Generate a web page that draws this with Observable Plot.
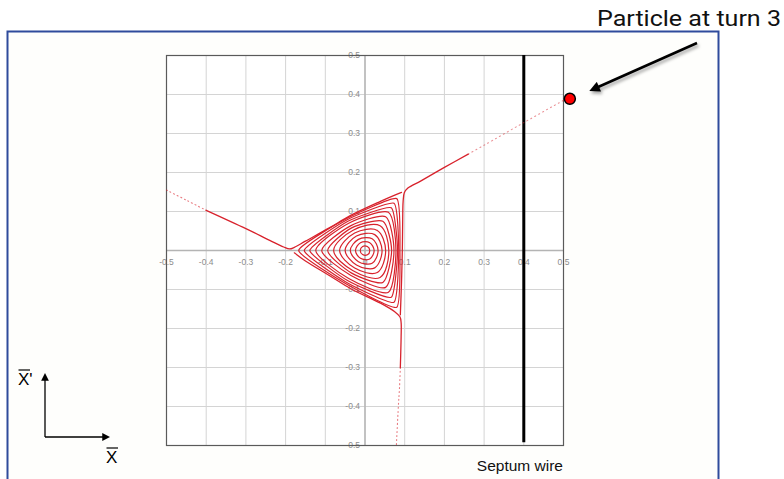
<!DOCTYPE html>
<html>
<head>
<meta charset="utf-8">
<script src="https://cdn.jsdelivr.net/npm/d3@7"></script>
<script src="https://cdn.jsdelivr.net/npm/@observablehq/plot@0.6"></script>
<style>
  html, body { margin: 0; padding: 0; background: #ffffff; overflow: hidden; }
  #wrap { position: relative; width: 784px; height: 479px; overflow: hidden; }
  #deco, #chart { position: absolute; left: 0; top: 0; }
  #chart svg { overflow: visible; }
</style>
</head>
<body>
<div id="wrap">
  <svg id="deco" width="784" height="479" xmlns="http://www.w3.org/2000/svg">
    <defs>
      <marker id="bigHead" viewBox="0 0 10 10" refX="2" refY="5" markerWidth="5" markerHeight="4.2" orient="auto" markerUnits="strokeWidth">
        <path d="M0,0 L10,5 L0,10 Z" fill="#000"/>
      </marker>
      <marker id="smallHead" viewBox="0 0 10 10" refX="1" refY="5" markerWidth="6" markerHeight="6" orient="auto" markerUnits="strokeWidth">
        <path d="M0,0 L10,5 L0,10 Z" fill="#000"/>
      </marker>
      <filter id="shadow" x="-20%" y="-50%" width="140%" height="200%">
        <feDropShadow dx="1.5" dy="2.5" stdDeviation="1.5" flood-color="#000" flood-opacity="0.35"/>
      </filter>
    </defs>
    <rect x="7.5" y="31.5" width="711" height="470" fill="#fefefc" stroke="#2f4b9c" stroke-width="2"/>
    <text x="597" y="26" font-family="Roboto, 'Liberation Sans', sans-serif" font-size="22" fill="#111" textLength="184" lengthAdjust="spacingAndGlyphs">Particle at turn 3</text>
    <line x1="697" y1="43" x2="597" y2="87.5" stroke="#000" stroke-width="2.5" marker-end="url(#bigHead)" filter="url(#shadow)"/>
    <!-- coordinate-system sketch -->
    <line x1="45" y1="437" x2="45" y2="380" stroke="#000" stroke-width="1.3" marker-end="url(#smallHead)"/>
    <line x1="45" y1="437" x2="103" y2="437" stroke="#000" stroke-width="1.3" marker-end="url(#smallHead)"/>
    <text x="18" y="385" font-family="'Liberation Sans', Arial, sans-serif" font-size="17" fill="#000">X'</text>
    <line x1="18.5" y1="370" x2="30" y2="370" stroke="#000" stroke-width="1.2"/>
    <text x="106" y="463" font-family="'Liberation Sans', Arial, sans-serif" font-size="17" fill="#000">X</text>
    <line x1="106.5" y1="448" x2="118" y2="448" stroke="#000" stroke-width="1.2"/>
    <text x="563" y="471" text-anchor="end" font-family="'Liberation Sans', Arial, sans-serif" font-size="15.5" fill="#111">Septum wire</text>
  </svg>
  <div id="chart"></div>
</div>
<script>
// ---- axis ticks ----
const gridTicks = [-0.5, -0.4, -0.3, -0.2, -0.1, 0, 0.1, 0.2, 0.3, 0.4, 0.5];
const xTickValues = [-0.5, -0.4, -0.3, -0.2, -0.1, 0, 0.1, 0.2, 0.3, 0.4, 0.5];
const xTickLabels = ["-0.5", "-0.4", "-0.3", "-0.2", "-0.1", "0", "0.1", "0.2", "0.3", "0.4", "0.5"];
const yTickValues = [0.5, 0.4, 0.3, 0.2, 0.1, -0.1, -0.2, -0.3, -0.4, -0.5];
const yTickLabels = ["0.5", "0.4", "0.3", "0.2", "0.1", "-0.1", "-0.2", "-0.3", "-0.4", "-0.5"];

// ---- septum wire position ----
const septumX = [0.4];

// ---- particle at turn 3 ----
const particle = [{x: 0.516, y: 0.389}];

// ---- stable closed orbits (x, x') ----
const orbit01 = [[0.012,0],[0.006,0.010],[-0.006,0.0104],[-0.012,0],[-0.006,-0.0104],[0.006,-0.011]];
const orbit02 = [[0.023,0],[0.012,0.020],[-0.0115,0.020],[-0.024,0],[-0.0115,-0.020],[0.012,-0.022]];
const orbit03 = [[0.033,0],[0.018,0.030],[-0.0165,0.0286],[-0.037,0],[-0.0165,-0.0286],[0.018,-0.0328]];
const orbit04 = [[0.043,0],[0.0245,0.0407],[-0.0215,0.0372],[-0.050,0],[-0.0215,-0.0372],[0.0245,-0.0445]];
const orbit05 = [[0.052,0],[0.031,0.0515],[-0.026,0.045],[-0.064,0],[-0.026,-0.045],[0.031,-0.0564]];
const orbit06 = [[0.060,0],[0.038,0.0632],[-0.030,0.052],[-0.079,0],[-0.030,-0.052],[0.038,-0.0691]];
const orbit07 = [[0.067,0],[0.045,0.0748],[-0.0335,0.058],[-0.094,0],[-0.0335,-0.058],[0.045,-0.0818]];
const orbit08 = [[0.073,0],[0.052,0.0865],[-0.0365,0.0632],[-0.109,0],[-0.0365,-0.0632],[0.052,-0.0946]];
const orbit09 = [[0.078,0],[0.059,0.0981],[-0.041,0.070],[-0.124,0],[-0.041,-0.072],[0.059,-0.1073]];
const orbit10 = [[0.082,0],[0.066,0.1097],[-0.043,0.075],[-0.139,0],[-0.044,-0.077],[0.066,-0.120]];
const orbit11 = [[0.085,0],[0.073,0.1213],[-0.045,0.079],[-0.153,0],[-0.046,-0.082],[0.073,-0.1327]];
const orbit12 = [[0.088,0],[0.080,0.133],[-0.046,0.082],[-0.167,0],[-0.047,-0.086],[0.080,-0.1455]];

// ---- separatrices and escaping arms ----
const sepLeftUpper = [[-0.40,0.103],[-0.30,0.056],[-0.24,0.026],[-0.205,0.009],[-0.19,0.004],[-0.178,0.008],[-0.15,0.024],[-0.09,0.058],[-0.036,0.090],[0.039,0.126],[0.075,0.142],[0.092,0.149]];
const sepRightUpper = [[0.089,-0.165],[0.092,-0.08],[0.094,0.0],[0.095,0.08],[0.096,0.125],[0.099,0.148],[0.108,0.160],[0.14,0.178],[0.2,0.213],[0.26,0.247]];
const sepLowerDown = [[-0.178,-0.006],[-0.15,-0.027],[-0.09,-0.064],[-0.036,-0.098],[0.039,-0.135],[0.075,-0.157],[0.088,-0.170],[0.091,-0.185],[0.091,-0.22],[0.089,-0.30]];
const tailLeft = [[-0.5,0.155],[-0.45,0.129],[-0.40,0.103]];
const tailUpperRight = [[0.26,0.247],[0.3,0.27],[0.4,0.328],[0.5,0.385]];
const tailDown = [[0.089,-0.30],[0.087,-0.35],[0.084,-0.40],[0.079,-0.5]];

const orbitGroups = [orbit01, orbit02, orbit03, orbit04, orbit05, orbit06, orbit07, orbit08, orbit09, orbit10, orbit11, orbit12];
const orbitRows = orbitGroups.flatMap((pts, i) => pts.map(([x, y]) => ({orbit: i + 1, x, y})));

const red = "#d8222c";
const px = d => d[0], py = d => d[1];

const chart = Plot.plot({
  width: 784,
  height: 479,
  marginLeft: 166,
  marginRight: 221,
  marginTop: 55,
  marginBottom: 34,
  x: {domain: [-0.5, 0.5], axis: null},
  y: {domain: [-0.5, 0.5], axis: null},
  style: {background: "transparent", overflow: "visible"},
  marks: [
    Plot.frame({fill: "white", stroke: "none"}),
    Plot.ruleX(gridTicks, {stroke: "#d4d4d4", strokeWidth: 1}),
    Plot.ruleY(gridTicks, {stroke: "#d4d4d4", strokeWidth: 1}),
    Plot.ruleX([0], {stroke: "#b4b4b4", strokeWidth: 1.5}),
    Plot.ruleY([0], {stroke: "#b4b4b4", strokeWidth: 1.5}),
    Plot.text(xTickValues, {x: d => d, y: 0, text: (d, i) => xTickLabels[i], dy: 12, fontSize: 8.5, fill: "#8c8c8c", fontFamily: "Liberation Sans, Arial, sans-serif"}),
    Plot.text(yTickValues, {x: 0, y: d => d, text: (d, i) => yTickLabels[i], dx: -5, textAnchor: "end", fontSize: 8.5, fill: "#8c8c8c", fontFamily: "Liberation Sans, Arial, sans-serif"}),
    Plot.frame({stroke: "#5a5a5a", strokeWidth: 1.2}),
    Plot.ruleX(septumX, {y1: -0.493, y2: 0.5, stroke: "#000", strokeWidth: 3}),
    Plot.line(orbitRows.filter(d => d.orbit <= 6), {x: "x", y: "y", z: "orbit", curve: "catmull-rom-closed", stroke: red, strokeWidth: 1.2}),
    Plot.line(orbitRows.filter(d => d.orbit >= 7 && d.orbit <= 9), {x: "x", y: "y", z: "orbit", curve: "cardinal-closed", tension: 0.3, stroke: red, strokeWidth: 1.2}),
    Plot.line(orbitRows.filter(d => d.orbit >= 10), {x: "x", y: "y", z: "orbit", curve: "cardinal-closed", tension: 0.55, stroke: red, strokeWidth: 1.2}),
    Plot.line(sepLeftUpper, {x: px, y: py, curve: "catmull-rom", stroke: red, strokeWidth: 1.3}),
    Plot.line(sepRightUpper, {x: px, y: py, curve: "catmull-rom", stroke: red, strokeWidth: 1.3}),
    Plot.line(sepLowerDown, {x: px, y: py, curve: "catmull-rom", stroke: red, strokeWidth: 1.3}),
    Plot.line(tailLeft, {x: px, y: py, curve: "catmull-rom", stroke: red, strokeWidth: 1.1, strokeOpacity: 0.6, strokeDasharray: "1,3", strokeLinecap: "round"}),
    Plot.line(tailUpperRight, {x: px, y: py, curve: "catmull-rom", stroke: red, strokeWidth: 1.1, strokeOpacity: 0.5, strokeDasharray: "1,3.5", strokeLinecap: "round"}),
    Plot.line(tailDown, {x: px, y: py, curve: "catmull-rom", stroke: red, strokeWidth: 1.1, strokeOpacity: 0.6, strokeDasharray: "1,3", strokeLinecap: "round"}),
    Plot.dot(particle, {x: "x", y: "y", r: 5.5, fill: "#ff0000", stroke: "#000", strokeWidth: 1.5})
  ]
});
document.getElementById("chart").appendChild(chart);
</script>
</body>
</html>
